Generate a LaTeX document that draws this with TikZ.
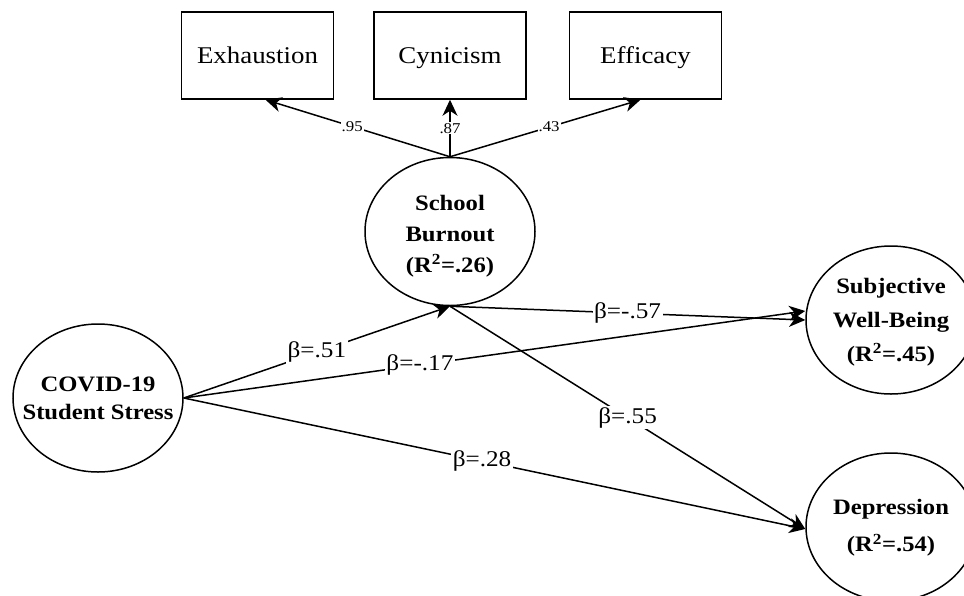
\documentclass[tikz,border=0pt]{standalone}
\usepackage{fontspec}
\setmainfont{Liberation Serif}[FakeStretch=1.12]
\usetikzlibrary{shapes.geometric,arrows.meta}
\tikzset{
  x=1pt, y=-1pt,
  obsbox/.style={draw, line width=1.5pt, minimum width=152pt, minimum height=87pt, inner sep=0pt, text height=20pt, text depth=5pt, font=\fontsize{24}{28}\selectfont},
  latent/.style={draw, ellipse, line width=1.5pt, minimum width=170pt, minimum height=148pt, inner sep=0pt},
  ltext/.style={align=center, inner sep=0pt, font=\fontsize{22}{31}\selectfont\bfseries},
  path/.style={line width=1.5pt, -{Stealth[length=16pt,width=15pt,inset=5pt]}},
  blab/.style={fill=white, inner sep=1.5pt, font=\fontsize{22.5}{24}\selectfont},
  llab/.style={fill=white, inner sep=1pt, font=\fontsize{15}{16}\selectfont}
}
\begin{document}
\begin{tikzpicture}
\useasboundingbox (0,0) rectangle (964,595);
\clip (0,0) rectangle (964,595);
\node[obsbox] (exh) at (257.5,55.5) {Exhaustion};
\node[obsbox] (cyn) at (450,55.5) {Cynicism};
\node[obsbox] (eff) at (645.5,55.5) {Efficacy};
\node[latent] (bur) at (450,231.5) {};
\node[ltext] (burt) at (450,236) {School\\Burnout\\(R\textsuperscript{2}=.26)};
\node[latent] (cov) at (98,398) {};
\node[ltext, font=\fontsize{22}{28}\selectfont\bfseries] (covt) at (98,398) {COVID-19\\Student Stress};
\node[latent] (sub) at (891,320) {};
\node[ltext, font=\fontsize{22}{34}\selectfont\bfseries] (subt) at (891,322) {Subjective\\Well-Being\\(R\textsuperscript{2}=.45)};
\node[latent] (dep) at (891,527) {};
\node[ltext, font=\fontsize{22}{37}\selectfont\bfseries] (dept) at (891,528) {Depression\\(R\textsuperscript{2}=.54)};
\coordinate (exhin) at ([xshift=8pt]exh.south);
\coordinate (effin) at ([xshift=-5pt]eff.south);
\draw[path] (bur.north) -- node[llab, pos=0.53] {.95} (exhin);
\draw[path] (bur.north) -- node[llab, pos=0.5] {.87} (cyn.south);
\draw[path] (bur.north) -- node[llab, pos=0.52] {.43} (effin);
\coordinate (subin1) at ([yshift=0pt]sub.west);
\coordinate (subin2) at ([yshift=9pt]sub.west);
\coordinate (depin) at ([yshift=-2pt]dep.west);
\draw[path] (cov.east) -- node[blab, pos=0.5] {β=.51} (bur.south);
\draw[path] (cov.east) -- node[blab, pos=0.38] {β=-.17} (subin2);
\draw[path] (cov.east) -- node[blab, pos=0.48] {β=.28} (depin);
\draw[path] (bur.south) -- node[blab, pos=0.5] {β=-.57} (subin1);
\draw[path] (bur.south) -- node[blab, pos=0.5] {β=.55} (depin);
\end{tikzpicture}
\end{document}
